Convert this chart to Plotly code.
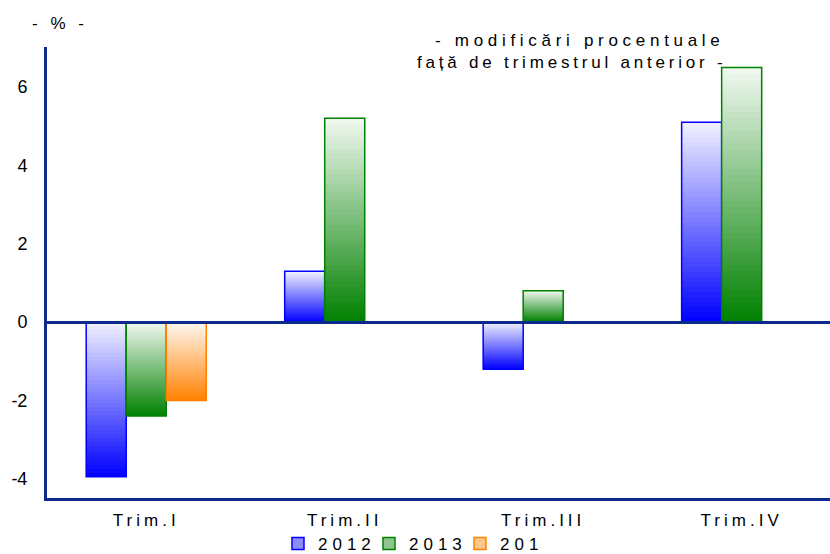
import plotly.graph_objects as go

# ---- data ----
categories = ["Trim.I", "Trim.II", "Trim.III", "Trim.IV"]
series_names = ["2012", "2013", "201"]
values_2012 = [-3.95, 1.3, -1.2, 5.1]
values_2013 = [-2.4, 5.2, 0.8, 6.5]
values_2014 = [-2.0, None, None, None]
y_tick_values = [-4, -2, 0, 2, 4, 6]
y_tick_labels = ["-4", "-2", "0", "2", "4", "6"]

series_values = [values_2012, values_2013, values_2014]
base_rgb = [(0, 0, 255), (0, 128, 0), (255, 128, 0)]
edge_colors = ["#0000ff", "#008000", "#ff8000"]
AXIS_COLOR = "#0b2a8c"
FONT = "Liberation Sans, Arial, sans-serif"
N_SEG = 40


def blend(rgb, f):
    r, g, b = (round(255 * (1 - f) + c * f) for c in rgb)
    return f"rgb({r},{g},{b})"


def spaced(text, px):
    return f'<span style="letter-spacing:{px}px">{text}</span>'


fig = go.Figure()

for name, vals, rgb, edge in zip(series_names, series_values, base_rgb, edge_colors):
    group = name
    # gradient: light at the top of each bar, full colour at its bottom
    for i in range(N_SEG):
        bases, heights = [], []
        for v in vals:
            if v is None:
                bases.append(None)
                heights.append(None)
                continue
            h = abs(v)
            top = max(0.0, v) - h * i / N_SEG
            seg = h / N_SEG
            extra = seg * 0.6 if i < N_SEG - 1 else 0.0
            bases.append(top - seg - extra)
            heights.append(seg + extra)
        f = 0.05 + 0.95 * (i + 0.5) / N_SEG
        fig.add_trace(go.Bar(
            x=categories, y=heights, base=bases, offsetgroup=group,
            marker=dict(color=blend(rgb, f), line=dict(width=0)),
            showlegend=False, hoverinfo="skip",
        ))
    # outline of each bar
    fig.add_trace(go.Bar(
        x=categories, y=vals, offsetgroup=group, name=name,
        marker=dict(color="rgba(0,0,0,0)", line=dict(color=edge, width=1.5)),
        showlegend=False,
    ))
    # legend entry
    fig.add_trace(go.Bar(
        x=[None], y=[None], offsetgroup=group, name=spaced(name, 5),
        marker=dict(color=blend(rgb, 0.45), line=dict(color=edge, width=1.5)),
        showlegend=True,
    ))

fig.update_layout(
    width=830, height=554,
    margin=dict(l=47, r=0, t=47, b=56, autoexpand=False),
    paper_bgcolor="white", plot_bgcolor="white",
    barmode="group", bargap=0.395, bargroupgap=0,
    font=dict(family=FONT, size=17, color="#000000"),
    legend=dict(
        orientation="h", x=0.295, xanchor="left",
        yref="container", y=0.018, yanchor="middle",
        font=dict(family=FONT, size=17, color="#000000"),
        itemwidth=30, entrywidth=46, tracegroupgap=0,
        bgcolor="rgba(0,0,0,0)",
    ),
    showlegend=True,
)

fig.update_xaxes(
    type="category", range=[-0.5, 3.445],
    tickvals=categories, ticktext=[spaced(c, 4) for c in categories],
    showline=True, linecolor=AXIS_COLOR, linewidth=3,
    showgrid=False, zeroline=False, ticks="",
    ticklabelstandoff=5, automargin=False,
    tickfont=dict(family=FONT, size=17, color="#000000"),
)
fig.update_yaxes(
    range=[-4.49, 7.02], tickvals=y_tick_values, ticktext=y_tick_labels,
    showline=True, linecolor=AXIS_COLOR, linewidth=3,
    showgrid=False, zeroline=True, zerolinecolor=AXIS_COLOR, zerolinewidth=2.5,
    ticks="", ticklabelstandoff=13, automargin=False,
    tickfont=dict(family=FONT, size=18, color="#000000"),
)
try:
    fig.update_yaxes(zerolinelayer="above traces")
except Exception:
    pass

fig.add_annotation(
    text=spaced("- % -", 4), xref="paper", yref="paper",
    x=0.0166, y=1.053, xanchor="center", yanchor="middle", showarrow=False,
    font=dict(family=FONT, size=17, color="#000000"),
)
fig.add_annotation(
    text=spaced("- modificări procentuale", 4.7),
    xref="paper", yref="paper", x=0.681, y=1.015,
    xanchor="center", yanchor="middle", showarrow=False,
    font=dict(family=FONT, size=17, color="#000000"),
)
fig.add_annotation(
    text=spaced("față de trimestrul anterior -", 3.8),
    xref="paper", yref="paper", x=0.670, y=0.966,
    xanchor="center", yanchor="middle", showarrow=False,
    font=dict(family=FONT, size=17, color="#000000"),
)

fig.write_html("out.html", config={"displayModeBar": False},
               post_script="document.body.style.margin='0';")
